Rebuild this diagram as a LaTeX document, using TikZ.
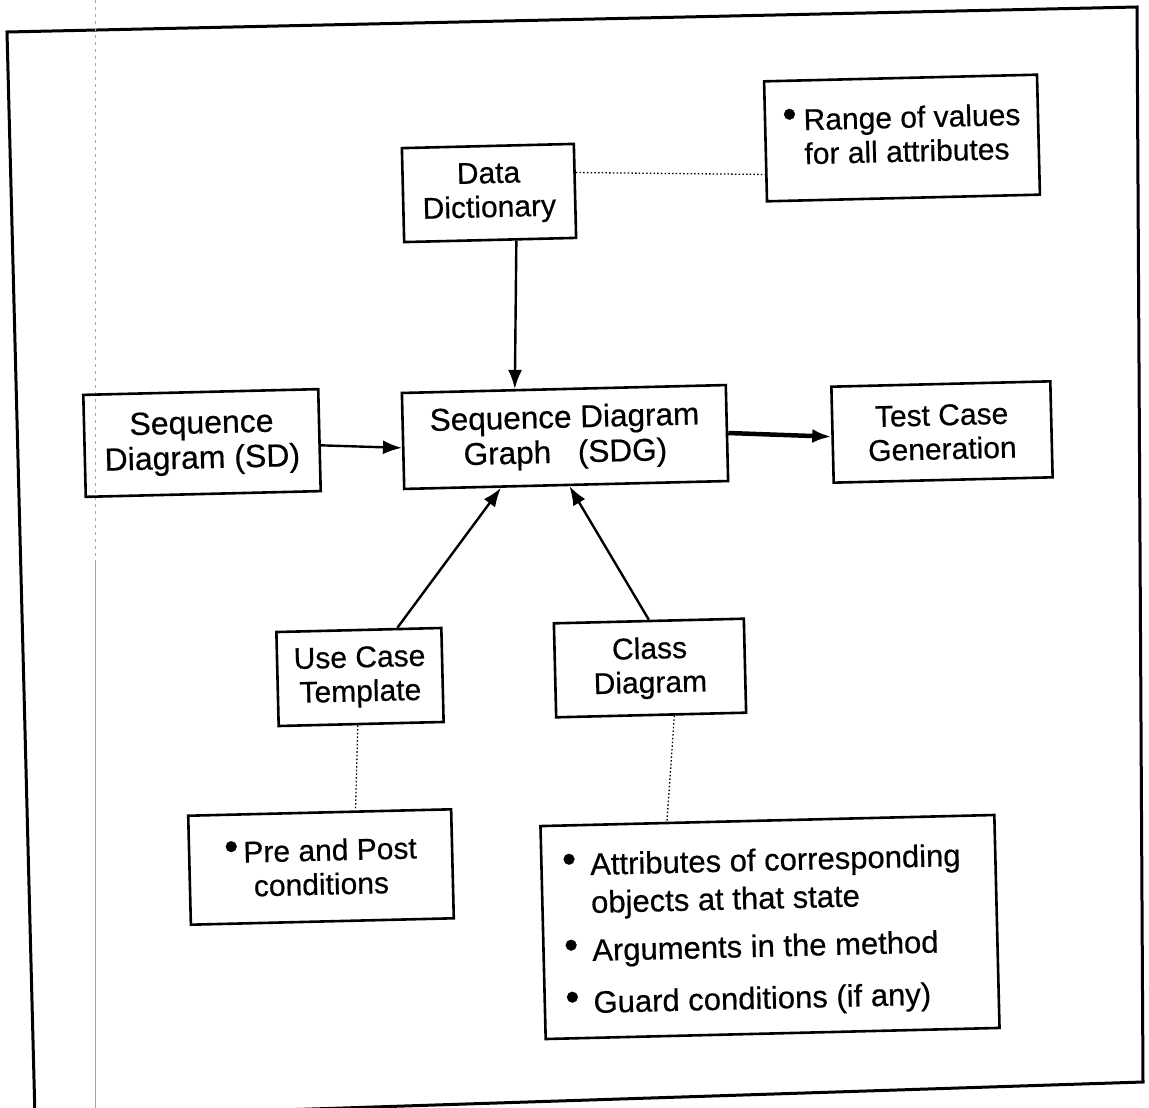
\documentclass[tikz,border=0pt]{standalone}
\usepackage{fontspec}
\setmainfont{Liberation Sans}[FakeBold=0.5]
\usetikzlibrary{arrows.meta,calc}
\newcommand\bul{\raisebox{3pt}{\fontsize{40}{40}\selectfont\textbullet}}
\begin{document}
\begin{tikzpicture}[x=1pt,y=-1pt,
  box/.style={draw, line width=2.6pt, rotate=1.4, inner sep=0pt, align=center,
    font=\fontsize{30}{34}\selectfont},
  conn/.style={line width=2.4pt, -{Latex[length=19pt,width=14pt]}},
  dotline/.style={line width=1.3pt, dash pattern=on 1.5pt off 2.2pt},
  framestyle/.style={line width=3pt, line join=miter},
  scanline/.style={line width=1pt, draw=black!35}]
\useasboundingbox (0,0) rectangle (1149,1108);
\begin{scope}
\clip (0,0) rectangle (1149,1108);
\draw[framestyle] (7,32) -- (1137,7) -- (1143,1082) -- (35,1118) -- cycle;
\draw[scanline, dash pattern=on 3pt off 4pt] (95,0) -- (95,560);
\draw[scanline] (95,560) -- (95,1108);
\end{scope}

\node[box, minimum width=172pt, minimum height=94pt] (dd) at (489,193) {Data\\Dictionary};
\node[box, minimum width=273pt, minimum height=120pt] (range) at (902,138)
  {\begin{tabular}{@{}l@{\hspace{7pt}}l@{}}\bul & Range of values\\ & for all attributes\end{tabular}};
\node[box, minimum width=235pt, minimum height=102pt, font=\fontsize{32}{35}\selectfont] (sd) at (202,443) {Sequence\\Diagram (SD)};
\node[box, minimum width=324pt, minimum height=96pt, font=\fontsize{31.5}{35}\selectfont] (sdg) at (565,437) {Sequence Diagram\\Graph\hspace{18pt} (SDG)};
\node[box, minimum width=219pt, minimum height=96pt] (tcg) at (942,432) {Test Case\\Generation};
\node[box, minimum width=165pt, minimum height=94pt] (uct) at (360,677) {Use Case\\Template};
\node[box, minimum width=190pt, minimum height=94pt] (cd) at (650,668) {Class\\Diagram};
\node[box, minimum width=263pt, minimum height=109pt] (pre) at (321,867) {\bul\hspace{5pt}Pre and Post\\conditions};
\node[box, minimum width=454pt, minimum height=213pt, font=\fontsize{31}{38}\selectfont] (big) at (770,927)
  {\raisebox{-5pt}[\height][\depth]{\begin{tabular}{@{}l@{\hspace{14pt}}l@{\hspace{14pt}}}
   \bul & Attributes of corresponding\\
        & objects at that state\\[10pt]
   \bul & Arguments in the method\\[14pt]
   \bul & Guard conditions (if any)
   \end{tabular}}};

\draw[conn] ($(dd.south west)!0.65!(dd.south east)$) -- ($(sdg.north west)!0.35!(sdg.north east)$);
\draw[conn] ($(sd.north east)!0.55!(sd.south east)$) -- ($(sdg.north west)!0.57!(sdg.south west)$);
\draw[conn, line width=4.5pt] ($(sdg.north east)!0.5!(sdg.south east)$) -- ($(tcg.north west)!0.52!(tcg.south west)$);
\draw[conn] ($(uct.north west)!0.73!(uct.north east)$) -- ($(sdg.south west)!0.30!(sdg.south east)$);
\draw[conn] (cd.north) -- ($(sdg.south west)!0.51!(sdg.south east)$);
\draw[dotline] ($(dd.north east)!0.31!(dd.south east)$) -- ($(range.north west)!0.77!(range.south west)$);
\draw[dotline] ($(uct.south west)!0.48!(uct.south east)$) -- ($(pre.north west)!0.635!(pre.north east)$);
\draw[dotline] ($(cd.south west)!0.62!(cd.south east)$) -- ($(big.north west)!0.28!(big.north east)$);
\end{tikzpicture}
\end{document}
